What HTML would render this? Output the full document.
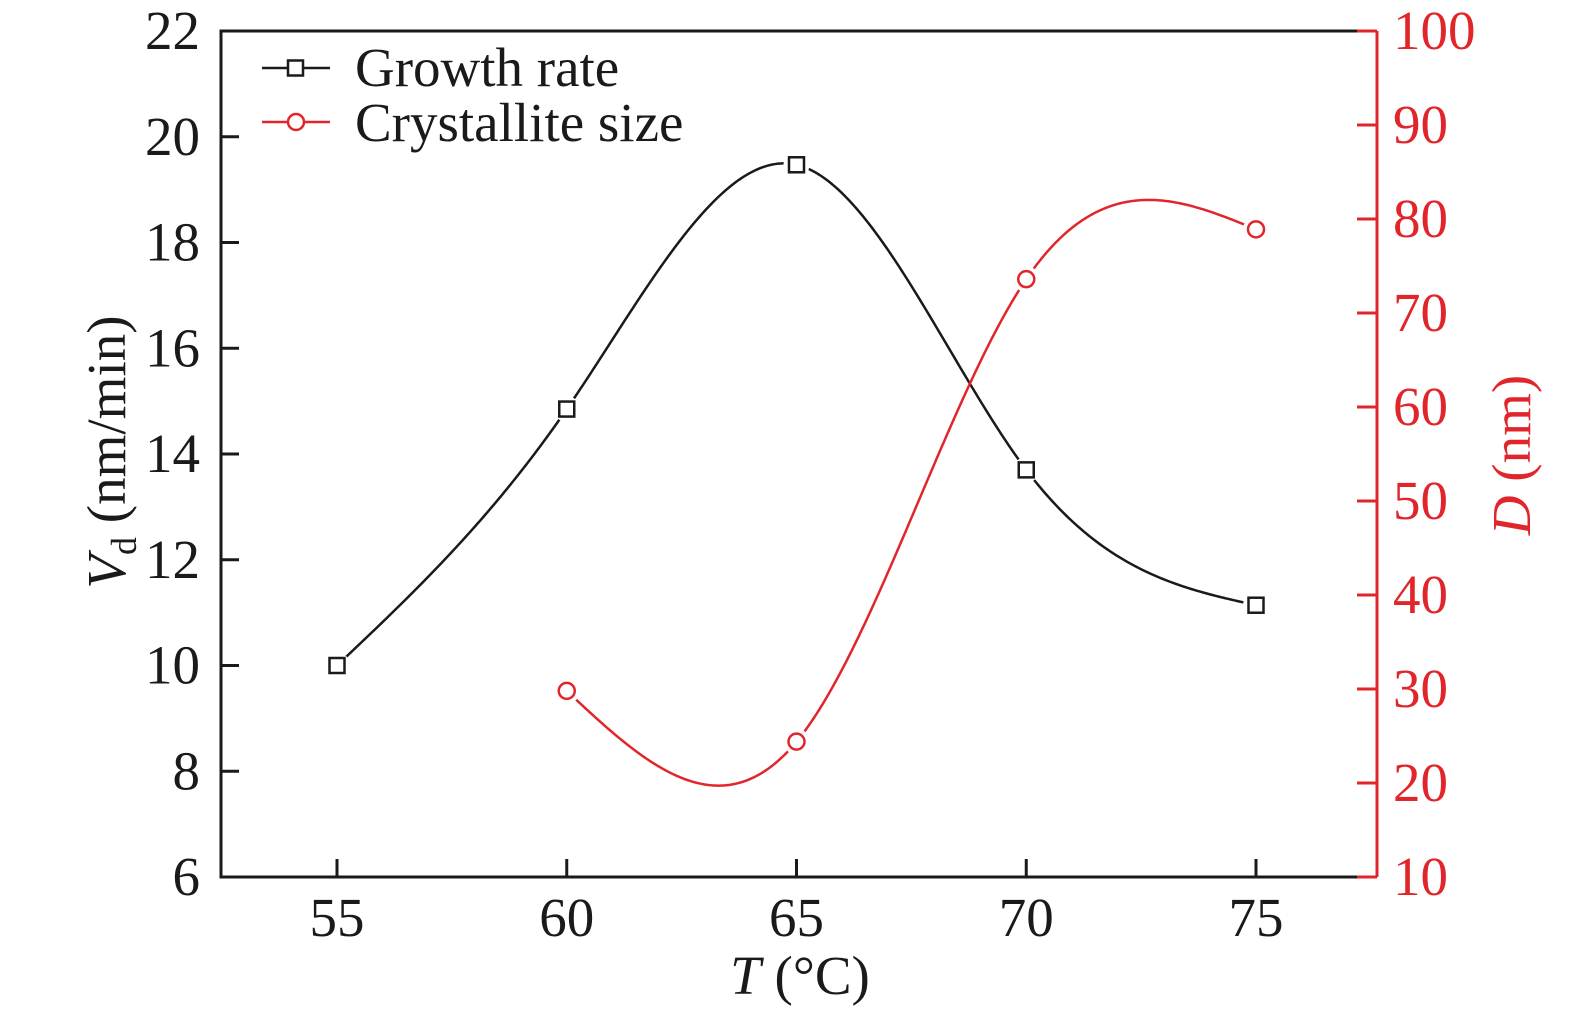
<!DOCTYPE html>
<html><head><meta charset="utf-8"><style>
html,body{margin:0;padding:0;background:#fff;}
svg{display:block;font-family:"Liberation Serif",serif;}
</style></head><body>
<svg id="chart" width="1575" height="1012" viewBox="0 0 1575 1012" xmlns="http://www.w3.org/2000/svg"></svg>
<script>
const temps=[55,60,65,70,75];
const growthRate=[10.0,14.85,19.47,13.7,11.14];
const crystTemps=[60,65,70,75];
const crystSize=[29.8,24.4,73.6,78.9];
const xTicks=[55,60,65,70,75];
const yLeftTicks=[6,8,10,12,14,16,18,20,22];
const yRightTicks=[10,20,30,40,50,60,70,80,90,100];

const L=221,R=1377,T=31,B=877;
const X=v=>337+(v-55)*(1256-337)/20;
const YL=v=>B-(v-6)*(B-T)/16;
const YR=v=>B-(v-10)*(B-T)/90;
const svg=document.getElementById('chart');
const NS='http://www.w3.org/2000/svg';
function mk(tag,attrs,parent){const e=document.createElementNS(NS,tag);for(const k in attrs)e.setAttribute(k,attrs[k]);(parent||svg).appendChild(e);return e;}
const red='#e0262b',blk='#1a1a1a';
const FS=55;

function spline(xs,ys){const n=xs.length;const h=[],a=[],l=[1],mu=[0],z=[0],c=new Array(n).fill(0),b=[],d=[];
for(let i=0;i<n-1;i++)h.push(xs[i+1]-xs[i]);
for(let i=1;i<n-1;i++)a[i]=3/h[i]*(ys[i+1]-ys[i])-3/h[i-1]*(ys[i]-ys[i-1]);
for(let i=1;i<n-1;i++){l[i]=2*(xs[i+1]-xs[i-1])-h[i-1]*mu[i-1];mu[i]=h[i]/l[i];z[i]=(a[i]-h[i-1]*z[i-1])/l[i];}
l[n-1]=1;z[n-1]=0;
for(let j=n-2;j>=0;j--){c[j]=z[j]-mu[j]*c[j+1];b[j]=(ys[j+1]-ys[j])/h[j]-h[j]*(c[j+1]+2*c[j])/3;d[j]=(c[j+1]-c[j])/(3*h[j]);}
return t=>{let j=0;while(j<n-2&&t>xs[j+1])j++;const dx=t-xs[j];return ys[j]+b[j]*dx+c[j]*dx*dx+d[j]*dx*dx*dx;};}

function curve(xs,ys,Y,color,name){const f=spline(xs,ys);let d='';const x0=xs[0],x1=xs[xs.length-1];
for(let i=0;i<=400;i++){const t=x0+(x1-x0)*i/400;d+=(i?'L':'M')+X(t).toFixed(2)+' '+Y(f(t)).toFixed(2);}
const p=mk('path',{d:d,fill:'none',stroke:color,'stroke-width':2.5});


xs.forEach((x,i)=>{const m=mk('circle',{cx:X(x),cy:Y(ys[i]),r:13,fill:'#fff'});

});}

curve(temps,growthRate,YL,blk,'growth-rate-line');
curve(crystTemps,crystSize,YR,red,'crystallite-size-line');

temps.forEach((t,i)=>{const r=mk('rect',{x:X(t)-7.5,y:YL(growthRate[i])-7.5,width:15,height:15,fill:'#fff',stroke:blk,'stroke-width':2.5});

});
crystTemps.forEach((t,i)=>{const c=mk('circle',{cx:X(t),cy:YR(crystSize[i]),r:8,fill:'#fff',stroke:red,'stroke-width':2.5});

});

const fr=mk('path',{d:`M${R} ${T}L${L} ${T}L${L} ${B}L${R} ${B}`,fill:'none',stroke:blk,'stroke-width':3});

const ra=mk('line',{x1:R,y1:T,x2:R,y2:B,stroke:red,'stroke-width':3});


xTicks.forEach(v=>{mk('line',{x1:X(v),y1:B,x2:X(v),y2:B-18,stroke:blk,'stroke-width':3});
const t=mk('text',{x:X(v),y:936,'text-anchor':'middle','font-size':FS,fill:blk});t.textContent=v;
});
yLeftTicks.forEach(v=>{mk('line',{x1:L,y1:YL(v),x2:L+18,y2:YL(v),stroke:blk,'stroke-width':3});
const t=mk('text',{x:200,y:YL(v)+18,'text-anchor':'end','font-size':FS,fill:blk});t.textContent=v;
});
yRightTicks.forEach(v=>{mk('line',{x1:R,y1:YR(v),x2:R-20,y2:YR(v),stroke:red,'stroke-width':3});
const t=mk('text',{x:1393,y:YR(v)+18,'text-anchor':'start','font-size':FS,fill:red});t.textContent=v;
});
</script>
<svg style="position:absolute;left:0;top:0" width="1575" height="1012">
<text x="800" y="994" text-anchor="middle" font-size="55" fill="#1a1a1a" font-family="Liberation Serif, serif"><tspan font-style="italic">T</tspan> (°C)</text>
<text transform="translate(125,452) rotate(-90)" text-anchor="middle" font-size="55" fill="#1a1a1a" font-family="Liberation Serif, serif"><tspan font-style="italic">V</tspan><tspan font-size="36" dy="11">d</tspan><tspan dy="-11"> (nm/min)</tspan></text>
<text transform="translate(1530,455) rotate(-90)" text-anchor="middle" font-size="55" fill="#e0262b" font-family="Liberation Serif, serif"><tspan font-style="italic">D</tspan> (nm)</text>
<g font-family="Liberation Serif, serif" font-size="55">
<line x1="262" y1="68" x2="330" y2="68" stroke="#1a1a1a" stroke-width="2.5"/>
<rect x="288" y="60.5" width="15" height="15" fill="#fff" stroke="#1a1a1a" stroke-width="2.5"/>
<text x="355" y="86" fill="#1a1a1a">Growth rate</text>
<line x1="262" y1="122" x2="330" y2="122" stroke="#e0262b" stroke-width="2.5"/>
<circle cx="296" cy="122" r="8" fill="#fff" stroke="#e0262b" stroke-width="2.5"/>
<text x="355" y="141" fill="#1a1a1a">Crystallite size</text>
</g>
</svg>
</body></html>
